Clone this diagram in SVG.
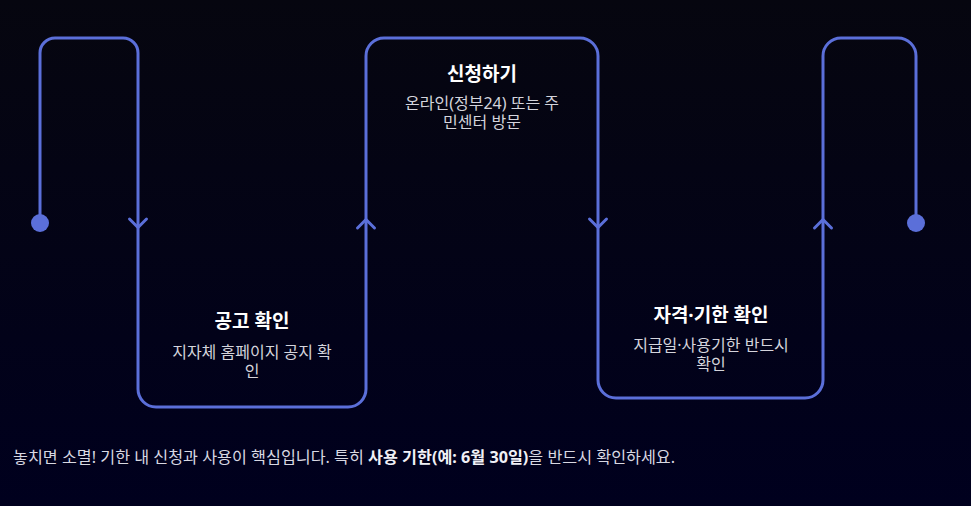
<svg xmlns="http://www.w3.org/2000/svg" width="971" height="506" viewBox="0 0 971 506">
<defs>
<linearGradient id="bg" x1="0" y1="0" x2="0" y2="1">
<stop offset="0" stop-color="#06060f"/>
<stop offset="1" stop-color="#00001e"/>
</linearGradient>
</defs>
<style>
.line{fill:none;stroke:#5b6fd9;stroke-width:3;stroke-linecap:round;stroke-linejoin:round}
.dot{fill:#5b6fd9}
.title{font-family:"Noto Sans","Noto Sans CJK KR",sans-serif;font-size:19px;font-weight:700;fill:#ffffff;text-anchor:middle}
.sub{font-family:"Noto Sans","Noto Sans CJK KR",sans-serif;font-size:16px;fill:#d4d4dc;text-anchor:middle}
.foot{font-family:"Noto Sans","Noto Sans CJK KR",sans-serif;font-size:16.2px;fill:#d8d8e2}
.foot .b{font-weight:700;fill:#f0f0f6}
</style>
<rect width="971" height="506" fill="url(#bg)"/>
<g id="connectors">
<path class="line" d="M40,223 V53 A15,15 0 0 1 55,38 H123 A15,15 0 0 1 138,53 V389 A18,18 0 0 0 156,407 H348 A18,18 0 0 0 366,389 V56 A18,18 0 0 1 384,38 H580 A18,18 0 0 1 598,56 V380 A18,18 0 0 0 616,398 H805 A18,18 0 0 0 823,380 V56 A18,18 0 0 1 841,38 H898 A18,18 0 0 1 916,56 V223"/>
<circle class="dot" cx="40" cy="223" r="9"/>
<circle class="dot" cx="916" cy="223" r="9"/>
<path class="line" d="M129.5,219 L138,227.5 L146.5,219"/>
<path class="line" d="M357.5,228 L366,219.5 L374.5,228"/>
<path class="line" d="M589.5,219 L598,227.5 L606.5,219"/>
<path class="line" d="M814.5,228 L823,219.5 L831.5,228"/>
</g>
<g id="node-1">
<text class="title" x="252" y="328">공고 확인</text>
<text class="sub" x="252" y="358">지자체 홈페이지 공지 확<tspan x="252" dy="19">인</tspan></text>
</g>
<g id="node-2">
<text class="title" x="482" y="81">신청하기</text>
<text class="sub" x="482" y="109">온라인(정부24) 또는 주<tspan x="482" dy="19">민센터 방문</tspan></text>
</g>
<g id="node-3">
<text class="title" x="711" y="322">자격·기한 확인</text>
<text class="sub" x="711" y="351">지급일·사용기한 반드시<tspan x="711" dy="19">확인</tspan></text>
</g>
<g id="footnote">
<text class="foot" x="13" y="463">놓치면 소멸! 기한 내 신청과 사용이 핵심입니다. 특히 <tspan class="b">사용 기한(예: 6월 30일)</tspan>을 반드시 확인하세요.</text>
</g>
</svg>
